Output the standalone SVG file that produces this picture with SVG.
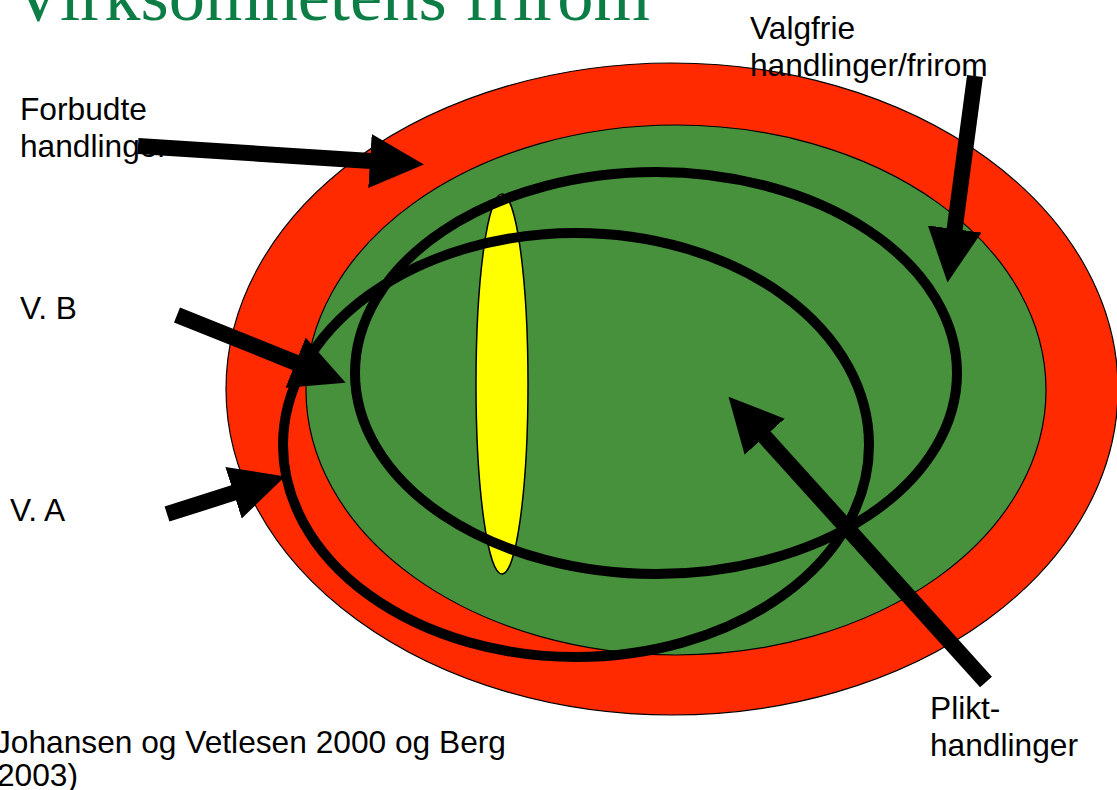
<svg xmlns="http://www.w3.org/2000/svg" width="1117" height="790" viewBox="0 0 1117 790">
<style>
.lbl{font-family:"Liberation Sans",Arial,sans-serif;font-size:31.7px;fill:#000}
.title{font-family:"Liberation Serif","Times New Roman",serif;font-size:72.5px;fill:#0B7D45}
.shaft{stroke:#000;stroke-width:16;fill:none;marker-end:url(#ah)}
.ring{fill:none;stroke:#000;stroke-width:10}
</style>
<defs>
<marker id="ah" markerUnits="userSpaceOnUse" viewBox="0 0 54 54" markerWidth="54" markerHeight="54" refX="1" refY="27" orient="auto">
<path d="M0,0 L54,27 L0,54 Z" fill="#000"/>
</marker>
</defs>
<rect width="1117" height="790" fill="#fff"/>
<text class="title" x="12" y="20">Virksomhetens frirom</text>
<g id="forbudt-zone"><ellipse cx="672" cy="389" rx="446" ry="326" fill="#FF2A00" stroke="#000" stroke-width="1.2"/></g>
<g id="valgfri-zone"><ellipse cx="676" cy="390" rx="370" ry="265" fill="#47913C" stroke="#000" stroke-width="1.2"/></g>
<g id="yellow"><ellipse cx="502" cy="384" rx="26" ry="190" fill="#FFFF00" stroke="#000" stroke-width="1.5"/></g>
<g id="ring-b"><ellipse class="ring" cx="656" cy="373" rx="301" ry="201"/></g>
<g id="ring-a"><ellipse class="ring" cx="576" cy="445" rx="293" ry="212"/></g>
<g id="label-forbudte"><text class="lbl" x="20" y="120">Forbudte</text><text class="lbl" x="20" y="157">handlinger</text></g>
<g id="label-valgfrie"><text class="lbl" x="750" y="39">Valgfrie</text><text class="lbl" x="750" y="76">handlinger/frirom</text></g>
<g id="label-vb"><text class="lbl" x="20" y="319">V. B</text></g>
<g id="label-va"><text class="lbl" x="10" y="521">V. A</text></g>
<g id="label-plikt"><text class="lbl" x="930" y="719">Plikt-</text><text class="lbl" x="930" y="756">handlinger</text></g>
<g id="source"><text class="lbl" x="-5" y="753">Johansen og Vetlesen 2000 og Berg</text><text class="lbl" x="-3" y="786">2003)</text></g>
<g id="connectors">
<line class="shaft" x1="138" y1="146" x2="371" y2="161"/>
<line class="shaft" x1="177" y1="315" x2="296.5" y2="363"/>
<line class="shaft" x1="167" y1="514" x2="234.5" y2="492.5"/>
<line class="shaft" x1="975" y1="76" x2="954.5" y2="230"/>
<line class="shaft" x1="986" y1="682" x2="764" y2="436"/>
</g>
</svg>
